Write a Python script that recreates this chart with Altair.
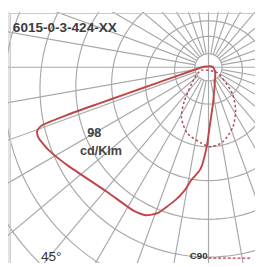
import altair as alt
import pandas as pd

# ---- data (angle from downward vertical, + to the left; intensity) ----
title_text = "6015-0-3-424-XX"
value_text = ["98", "cd/Klm"]
angle_label = "45°"
legend_label = "C90"

c0_angle = [-108, -71.6, -45, -8, -1, 1.4, 4.4, 8.7, 11.1, 14.2, 19.1, 23.0, 27.8, 39.4,
            54.9, 62.7, 67.4, 69.5, 70.8, 71.4, 71.7, 72.1, 72.9, 74.9, 84.3, 95.7]
c0_value = [3.2, 6.3, 9.9, 35.4, 62, 83, 105, 118, 130, 142, 159, 166, 167, 166,
            177, 186, 190, 189, 182, 153, 121, 89.3, 57.5, 31.1, 10, 5]

c90_angle = [-58, -51.3, -41.8, -31.9, -22, -11, -1.4, 5.9, 17.9, 28.3, 35.5, 51.3, 66.8]
c90_value = [9.4, 19.2, 37.5, 53, 66.9, 78.4, 82, 78.4, 71.5, 59, 43, 19.2, 7.6]

# grid: rings (radius, downward offset of centre) and spokes every 10 degrees
ring_radius = [14, 35, 65, 100, 137, 174, 211, 248]
ring_shift = [0, 3, 17, 17, 20, 22, 24, 26]
spoke_angle = list(range(0, 360, 10))

W, H = 255, 259
GRID = "#a8a8a8"
RED = "#c0464a"

X = alt.X("x:Q", scale=alt.Scale(domain=[-207, 48], nice=False, zero=False), axis=None)
Y = alt.Y("y:Q", scale=alt.Scale(domain=[-57, 202], nice=False, zero=False, reverse=True), axis=None)

rings = alt.Chart(pd.DataFrame({"ring": list(range(len(ring_radius))),
                                "rad": ring_radius, "shift": ring_shift})).transform_calculate(
    t="sequence(0, 363, 3)").transform_flatten(["t"]).transform_calculate(
    x="datum.rad*sin(datum.t*PI/180)",
    y="datum.shift + datum.rad*cos(datum.t*PI/180)").mark_line(
    clip=True, stroke=GRID, strokeWidth=1.2).encode(x=X, y=Y, detail="ring:N", order="t:Q")

spokes = alt.Chart(pd.DataFrame({"a": spoke_angle})).transform_calculate(
    r0="datum.a % 90 == 0 ? 0 : 14").transform_calculate(
    x="-datum.r0*sin(datum.a*PI/180)", y="datum.r0*cos(datum.a*PI/180)",
    x2="-400*sin(datum.a*PI/180)", y2="400*cos(datum.a*PI/180)").mark_rule(
    clip=True, stroke=GRID, strokeWidth=1.2).encode(x=X, y=Y, x2="x2:Q", y2="y2:Q")

c0 = alt.Chart(pd.DataFrame({"i": list(range(len(c0_angle))), "a": c0_angle, "v": c0_value})).transform_calculate(
    x="-datum.v*sin(datum.a*PI/180)", y="datum.v*cos(datum.a*PI/180)").mark_line(
    clip=True, stroke=RED, strokeWidth=2, interpolate="cardinal-closed", tension=0.5).encode(
    x=X, y=Y, order="i:Q")

c90 = alt.Chart(pd.DataFrame({"i": list(range(len(c90_angle))), "a": c90_angle, "v": c90_value})).transform_calculate(
    x="-datum.v*sin(datum.a*PI/180)", y="datum.v*cos(datum.a*PI/180)").mark_line(
    clip=True, stroke="#b83f4c", strokeWidth=1.5, strokeDash=[2.5, 2.5], interpolate="cardinal-closed",
    tension=0.3).encode(x=X, y=Y, order="i:Q")

frame_left = alt.Chart().mark_rect(color="#e4e4e4").encode(
    x=alt.value(0), x2=alt.value(2), y=alt.value(0), y2=alt.value(H))
border_top = alt.Chart().mark_rule(color="#c8c8c8", strokeWidth=1).encode(
    x=alt.value(2), x2=alt.value(W), y=alt.value(1.5))
border_left = alt.Chart().mark_rule(color="#c8c8c8", strokeWidth=1).encode(
    x=alt.value(2.5), y=alt.value(1), y2=alt.value(H))

title = alt.Chart(pd.DataFrame({"t": [title_text]})).mark_text(
    align="left", baseline="alphabetic", fontSize=14, fontWeight="bold",
    font="Liberation Sans Narrow, Arial Narrow, Liberation Sans", color="#3c3c3c").encode(
    x=alt.value(5), y=alt.value(20.5), text="t:N")

val = alt.Chart(pd.DataFrame({"t": value_text, "yy": [129, 148], "xx": [89, 96]})).mark_text(
    align="center", baseline="alphabetic", fontSize=13, fontWeight="bold",
    font="Liberation Sans", color="#444444").encode(
    x=alt.X("xx:Q", scale=None), y=alt.Y("yy:Q", scale=None), text="t:N")

ang = alt.Chart(pd.DataFrame({"t": [angle_label]})).mark_text(
    align="left", baseline="alphabetic", fontSize=14, font="Liberation Sans", color="#333333").encode(
    x=alt.value(34), y=alt.value(256.5), text="t:N")

leg = alt.Chart(pd.DataFrame({"t": [legend_label]})).mark_text(
    align="right", baseline="alphabetic", fontSize=10, fontWeight="bold",
    font="Liberation Sans Narrow, Arial Narrow, Liberation Sans", color="#333333").encode(
    x=alt.value(206), y=alt.value(255), text="t:N")
leg_line = alt.Chart().mark_rule(color="#b83f4c", strokeWidth=1.3, strokeDash=[3, 2]).encode(
    x=alt.value(207), x2=alt.value(252), y=alt.value(254))

chart = alt.layer(frame_left, rings, spokes, c90, c0, border_top, border_left,
                  title, val, ang, leg, leg_line).properties(
    width=W, height=H, autosize=alt.AutoSizeParams(type="none"), padding=0,
    background="white").configure_view(stroke=None)

chart.save("out.html", embed_options={"renderer": "svg", "actions": False})
